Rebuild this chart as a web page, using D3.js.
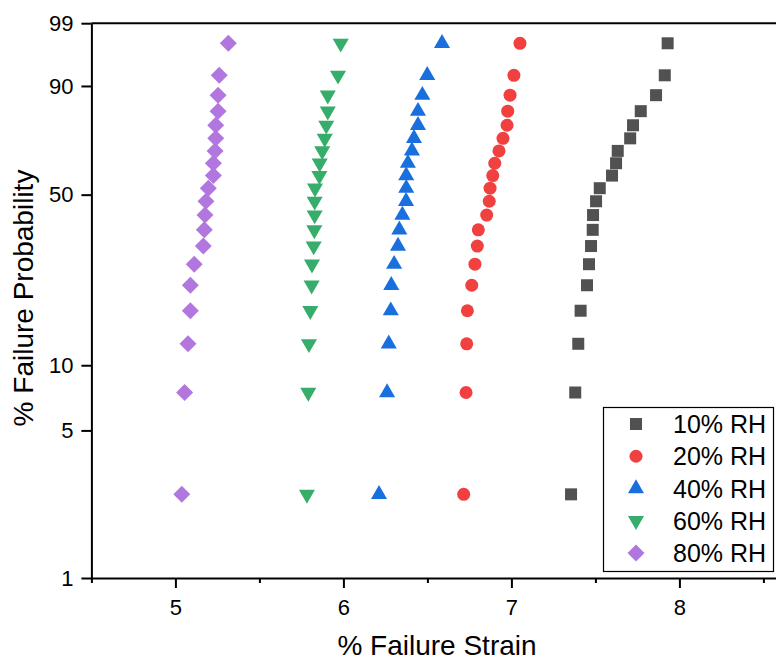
<!DOCTYPE html>
<html>
<head>
<meta charset="utf-8">
<script src="https://cdn.jsdelivr.net/npm/d3@7"></script>
<style>
  html, body { margin: 0; padding: 0; background: #fff; }
  svg { display: block; font-family: "Liberation Sans", Arial, sans-serif; }
</style>
</head>
<body>
<svg id="chart" width="776" height="664"></svg>
<script>
// ---- Data ----
const seriesNames = ["10% RH", "20% RH", "40% RH", "60% RH", "80% RH"];
const seriesColors = ["#515151", "#F14040", "#1A6FDF", "#37AD6B", "#B177DE"];
const nPoints = 20;
// failure strain (%) sorted ascending, rank i -> probability (i-0.5)/n
const strain10 = [7.355, 7.380, 7.398, 7.412, 7.450, 7.462, 7.474, 7.484, 7.486, 7.504,
                  7.526, 7.599, 7.623, 7.633, 7.707, 7.724, 7.770, 7.861, 7.913, 7.930];
const strain20 = [6.716, 6.730, 6.734, 6.738, 6.764, 6.783, 6.797, 6.803, 6.853, 6.868,
                  6.873, 6.889, 6.901, 6.926, 6.950, 6.974, 6.978, 6.992, 7.015, 7.051];
const strain40 = [6.212, 6.260, 6.270, 6.282, 6.285, 6.302, 6.325, 6.333, 6.351, 6.373,
                  6.374, 6.374, 6.384, 6.408, 6.420, 6.444, 6.444, 6.470, 6.499, 6.587];
const strain60 = [5.783, 5.791, 5.795, 5.803, 5.811, 5.813, 5.823, 5.827, 5.829, 5.829,
                  5.831, 5.857, 5.859, 5.874, 5.889, 5.898, 5.907, 5.907, 5.968, 5.984];
const strain80 = [5.038, 5.055, 5.075, 5.089, 5.089, 5.112, 5.166, 5.172, 5.176, 5.182,
                  5.196, 5.226, 5.226, 5.236, 5.240, 5.240, 5.254, 5.254, 5.261, 5.315];
const allStrains = [strain10, strain20, strain40, strain60, strain80];
const probTicks = [1, 5, 10, 50, 90, 99];
const xMajorTicks = [5, 6, 7, 8];
const xMinorTicks = [4.5, 5.5, 6.5, 7.5, 8.5];
const xTitle = "% Failure Strain";
const yTitle = "% Failure Probability";

(function () {
// ---- Scales ----
const weib = p => Math.log(-Math.log(1 - p / 100));
const svg = d3.select("#chart");
const plotLeft = 91.4, plotTop = 23.2, plotBottom = 578;
const x = d3.scaleLinear().domain([4.5, 8.575]).range([plotLeft, 776]);
const y = d3.scaleLinear().domain([weib(1), weib(99)]).range([plotBottom, plotTop]);

// ---- Axes ----
const fontTick = 22;
const axisColor = "#000";

// top frame line
svg.append("line")
  .attr("x1", plotLeft).attr("x2", 776)
  .attr("y1", y(weib(99))).attr("y2", y(weib(99)))
  .attr("stroke", axisColor).attr("stroke-width", 2);

const yAxis = d3.axisLeft(y)
  .tickValues(probTicks.map(weib))
  .tickFormat((d, i) => probTicks[i])
  .tickSize(10).tickPadding(8).tickSizeOuter(0);
const gy = svg.append("g").attr("transform", `translate(${plotLeft},0)`).call(yAxis);
gy.select(".domain").attr("stroke", axisColor).attr("stroke-width", 2);
gy.selectAll(".tick line").attr("stroke", axisColor).attr("stroke-width", 2);
gy.selectAll(".tick text").attr("font-size", fontTick).attr("fill", "#000")
  .attr("font-family", "Liberation Sans, Arial, sans-serif");

const xAxis = d3.axisBottom(x)
  .tickValues(xMajorTicks)
  .tickFormat(d3.format("d"))
  .tickSize(10).tickPadding(11).tickSizeOuter(0);
const gx = svg.append("g").attr("transform", `translate(0,${plotBottom})`).call(xAxis);
gx.select(".domain").attr("stroke", axisColor).attr("stroke-width", 2);
gx.selectAll(".tick line").attr("stroke", axisColor).attr("stroke-width", 2);
gx.selectAll(".tick text").attr("font-size", fontTick).attr("fill", "#000")
  .attr("font-family", "Liberation Sans, Arial, sans-serif");

const xMinor = d3.axisBottom(x).tickValues(xMinorTicks).tickFormat("").tickSize(5).tickSizeOuter(0);
const gxm = svg.append("g").attr("transform", `translate(0,${plotBottom})`).call(xMinor);
gxm.select(".domain").remove();
gxm.selectAll(".tick line").attr("stroke", axisColor).attr("stroke-width", 2);

// titles
svg.append("text")
  .attr("x", 437).attr("y", 655)
  .attr("text-anchor", "middle")
  .attr("font-size", 28).attr("fill", "#000")
  .text(xTitle);
svg.append("text")
  .attr("transform", `translate(33,298) rotate(-90)`)
  .attr("text-anchor", "middle")
  .attr("font-size", 28).attr("fill", "#000")
  .text(yTitle);

// ---- Markers ----
const markerDefs = [
  { type: d3.symbolSquare, size: 144, rot: 0 },
  { type: d3.symbolCircle, size: 133, rot: 0 },
  { type: d3.symbolTriangle, size: 112, rot: 0 },
  { type: d3.symbolTriangle, size: 112, rot: 180 },
  { type: d3.symbolSquare, size: 144, rot: 45 }
];

allStrains.forEach((vals, s) => {
  const m = markerDefs[s];
  const path = d3.symbol().type(m.type).size(m.size)();
  svg.append("g").selectAll("path")
    .data(vals.map((v, i) => ({ v, p: (i + 1 - 0.5) / nPoints * 100 })))
    .join("path")
    .attr("d", path)
    .attr("transform", d => `translate(${x(d.v)},${y(weib(d.p))}) rotate(${m.rot})`)
    .attr("fill", seriesColors[s]);
});

// ---- Legend ----
const lg = svg.append("g");
lg.append("rect")
  .attr("x", 603.5).attr("y", 407.5).attr("width", 170).attr("height", 164)
  .attr("fill", "#fff").attr("stroke", "#000").attr("stroke-width", 1.2);
const rowY = d3.scaleLinear().domain([0, 4]).range([424, 553]);
seriesNames.forEach((name, s) => {
  const m = markerDefs[s];
  lg.append("path")
    .attr("d", d3.symbol().type(m.type).size(m.size)())
    .attr("transform", `translate(636,${rowY(s)}) rotate(${m.rot})`)
    .attr("fill", seriesColors[s]);
  lg.append("text")
    .attr("x", 673).attr("y", rowY(s) + 9)
    .attr("font-size", 25).attr("fill", "#000")
    .text(name);
});
})();
</script>
</body>
</html>
